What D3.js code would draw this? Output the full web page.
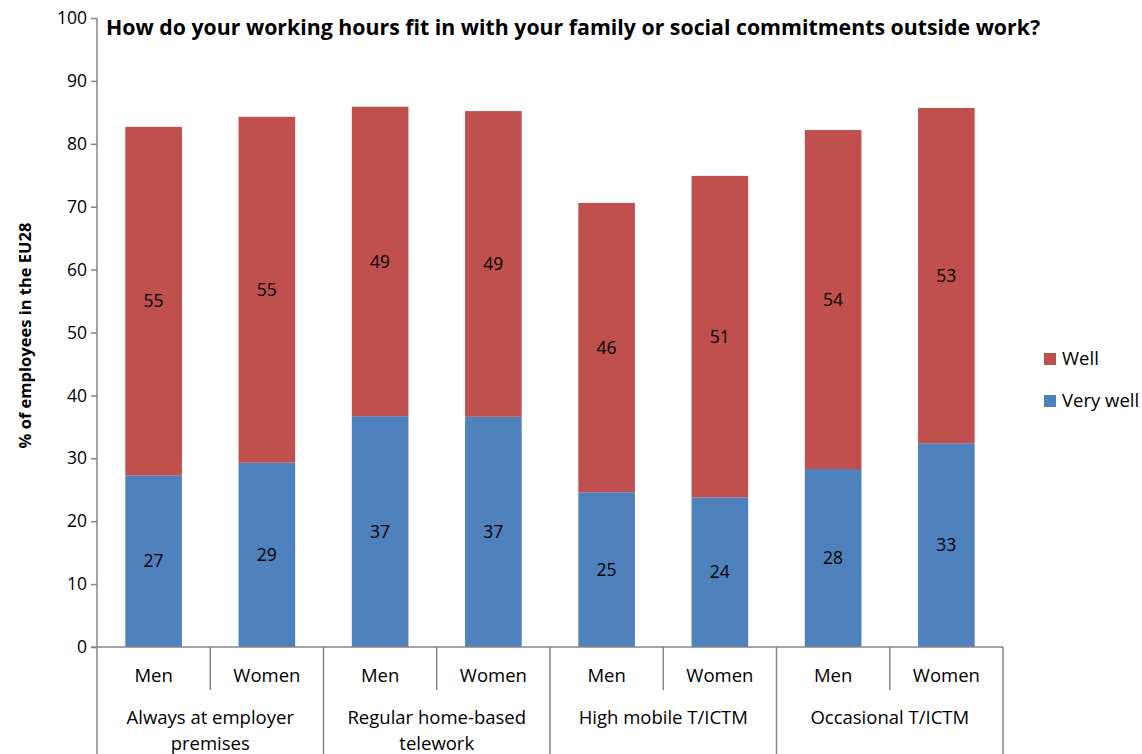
<!DOCTYPE html>
<html><head><meta charset="utf-8">
<script src="https://cdn.jsdelivr.net/npm/d3@7"></script>
<style>body{margin:0;background:#fff}svg{display:block}</style>
</head><body>
<svg id="c" width="1142" height="754"></svg>
<script>
const groups = ["Always at employer premises","Regular home-based telework","High mobile T/ICTM","Occasional T/ICTM"];
const groupLines = [["Always at employer","premises"],["Regular home-based","telework"],["High mobile T/ICTM"],["Occasional T/ICTM"]];
const sexes = ["Men","Women"];
const veryWell = [27.3,29.3,36.7,36.6,24.6,23.8,28.3,32.4];
const well = [55.4,55.0,49.2,48.6,46.0,51.1,53.9,53.3];
const veryWellLabels = [27,29,37,37,25,24,28,33];
const wellLabels = [55,55,49,49,46,51,54,53];
const yTicks = [0,10,20,30,40,50,60,70,80,90,100];
const seriesNames = ["Well","Very well"];
const colors = {"Very well":"#4F81BD","Well":"#C0504D"};

(function(){
const font = "'Open Sans', 'Noto Sans', sans-serif";
const svg = d3.select("#c");
const pL = 97, pR = 1003, pT = 18, pB = 647;

const bars = [];
groups.forEach((g,gi)=>sexes.forEach((s,si)=>bars.push({key:gi+"-"+si, g:gi, s})));
const x = d3.scaleBand().domain(bars.map(b=>b.key)).range([pL,pR]).paddingInner(0.5).paddingOuter(0.25);
const y = d3.scaleLinear().domain([0,100]).range([pB,pT]);

bars.forEach((b,i)=>{
  const vw = veryWell[i], w = well[i];
  svg.append("rect").attr("x",x(b.key)).attr("width",x.bandwidth())
    .attr("y",y(vw)).attr("height",y(0)-y(vw)).attr("fill",colors["Very well"]);
  svg.append("rect").attr("x",x(b.key)).attr("width",x.bandwidth())
    .attr("y",y(vw+w)).attr("height",y(vw)-y(vw+w)).attr("fill",colors["Well"]);
  const cx = x(b.key)+x.bandwidth()/2;
  svg.append("text").attr("x",cx).attr("y",y(vw/2)).attr("dy","0.35em").attr("text-anchor","middle")
    .attr("font-family",font).attr("font-size",17.5).attr("fill","#000").text(veryWellLabels[i]);
  svg.append("text").attr("x",cx).attr("y",y(vw+w/2)).attr("dy","0.35em").attr("text-anchor","middle")
    .attr("font-family",font).attr("font-size",17.5).attr("fill","#000").text(wellLabels[i]);
});

const yAxis = d3.axisLeft(y).tickValues(yTicks).tickSize(6).tickPadding(4);
const ya = svg.append("g").attr("transform",`translate(${pL},0)`).call(yAxis);
ya.select(".domain").attr("stroke","#868686").attr("stroke-width",1.5).attr("d",`M0,${pT}V${pB}`);
ya.selectAll(".tick line").attr("stroke","#868686").attr("stroke-width",1.5);
ya.selectAll(".tick text").attr("font-family",font).attr("font-size",17.5).attr("fill","#000");

svg.append("line").attr("x1",pL-6).attr("x2",pR).attr("y1",pB).attr("y2",pB)
  .attr("stroke","#868686").attr("stroke-width",1.5);
const step = x.step();
for(let k=0;k<=bars.length;k++){
  const xx = pL + k*step;
  const isGroup = k%2===0;
  svg.append("line").attr("x1",xx).attr("x2",xx).attr("y1",pB).attr("y2",isGroup?754:690)
    .attr("stroke","#868686").attr("stroke-width",1.5);
}
bars.forEach((b,i)=>{
  svg.append("text").attr("x",x(b.key)+x.bandwidth()/2).attr("y",682).attr("text-anchor","middle")
    .attr("font-family",font).attr("font-size",18.5).attr("fill","#000").text(b.s);
});
groupLines.forEach((lines,gi)=>{
  const cx = pL + (gi*2+1)*step;
  lines.forEach((ln,li)=>{
    svg.append("text").attr("x",cx).attr("y",724+li*26).attr("text-anchor","middle")
      .attr("font-family",font).attr("font-size",18.5).attr("fill","#000").text(ln);
  });
});

svg.append("text").attr("transform",`translate(31,${(pT+pB)/2 + 3}) rotate(-90)`).attr("text-anchor","middle")
  .attr("font-family",font).attr("font-size",16.5).attr("font-weight","bold").attr("fill","#000")
  .text("% of employees in the EU28");

svg.append("text").attr("x",106).attr("y",35).attr("font-family",font).attr("font-size",21.3)
  .attr("font-weight","bold").attr("fill","#000")
  .text("How do your working hours fit in with your family or social commitments outside work?");

seriesNames.forEach((n,i)=>{
  const ly = 359 + i*42;
  svg.append("rect").attr("x",1044).attr("y",ly-6).attr("width",12).attr("height",12).attr("fill",colors[n]);
  svg.append("text").attr("x",1062).attr("y",ly).attr("dy","0.35em").attr("font-family",font)
    .attr("font-size",18.5).attr("fill","#000").text(n);
});
})();
</script>
</body></html>
